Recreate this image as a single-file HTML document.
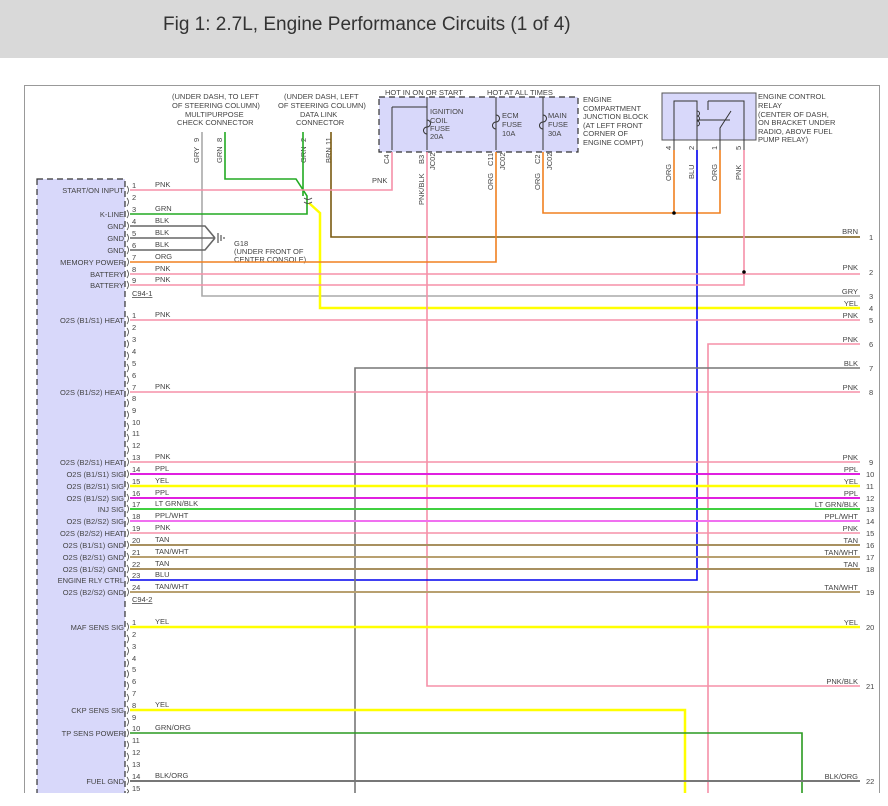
<!DOCTYPE html>
<html><head><meta charset="utf-8"><style>
html,body{margin:0;padding:0;background:#fff;}
svg{display:block;font-family:"Liberation Sans",sans-serif;}
.t{font-size:7.5px;fill:#444;}
.h{font-size:7.5px;fill:#444;}
</style></head><body>
<svg width="888" height="806" viewBox="0 0 888 806" xmlns="http://www.w3.org/2000/svg">
<rect x="0" y="0" width="888" height="58" fill="#d9d9d9"/>
<text x="163" y="30" font-size="19" fill="#333">Fig 1: 2.7L, Engine Performance Circuits (1 of 4)</text>
<rect x="24.5" y="85.5" width="855" height="720" fill="none" stroke="#999" stroke-width="1"/>
<rect x="0" y="793" width="888" height="13" fill="#fff"/>
<!-- module -->
<rect x="37" y="179" width="88" height="620" fill="#d8d8fa" stroke="#333" stroke-dasharray="6,4" stroke-width="1.2"/>
<rect x="0" y="793" width="888" height="13" fill="#fff"/>
<!-- junction block -->
<rect x="379" y="97" width="199" height="55" fill="#d8d8fa" stroke="#333" stroke-dasharray="6,4" stroke-width="1.2"/>
<g stroke="#333" fill="none" stroke-width="1">
<path d="M427 97V150 M392 107H427 M392 107V150 M496 97V150 M543 97V150"/>
<path d="M427 120a3 3 0 0 1 0 7a3 3 0 0 0 0 7 M496 115a3 3 0 0 1 0 7a3 3 0 0 0 0 7 M543 115a3 3 0 0 1 0 7a3 3 0 0 0 0 7"/>
</g>
<g class="t">
<text x="385" y="95">HOT IN ON OR START</text><text x="487" y="95">HOT AT ALL TIMES</text>
<text x="430" y="114">IGNITION</text><text x="430" y="123">COIL</text><text x="430" y="131">FUSE</text><text x="430" y="139">20A</text>
<text x="502" y="118">ECM</text><text x="502" y="127">FUSE</text><text x="502" y="136">10A</text>
<text x="548" y="118">MAIN</text><text x="548" y="127">FUSE</text><text x="548" y="136">30A</text>
<text x="583" y="102">ENGINE</text><text x="583" y="111">COMPARTMENT</text><text x="583" y="119">JUNCTION BLOCK</text><text x="583" y="128">(AT LEFT FRONT</text><text x="583" y="136">CORNER OF</text><text x="583" y="145">ENGINE COMPT)</text>
</g>
<!-- relay -->
<rect x="662" y="93" width="94" height="47" fill="#d8d8fa" stroke="#555" stroke-width="1"/>
<g stroke="#333" fill="none" stroke-width="1">
<path d="M674 150V101H697V150 M697 101v10a2 2 0 0 1 0 5a2 2 0 0 1 0 5a2 2 0 0 1 0 5 M708 101H744V150 M708 101v9 M720 150V128L731 111 M697 120H730" stroke-dasharray="0"/>
</g>
<g class="t">
<text x="758" y="99">ENGINE CONTROL</text><text x="758" y="108">RELAY</text><text x="758" y="117">(CENTER OF DASH,</text><text x="758" y="125">ON BRACKET UNDER</text><text x="758" y="134">RADIO, ABOVE FUEL</text><text x="758" y="142">PUMP RELAY)</text>
<text x="172" y="99">(UNDER DASH, TO LEFT</text><text x="172" y="108">OF STEERING COLUMN)</text><text x="185" y="117">MULTIPURPOSE</text><text x="177" y="125">CHECK CONNECTOR</text>
<text x="284" y="99">(UNDER DASH, LEFT</text><text x="278" y="108">OF STEERING COLUMN)</text><text x="300" y="117">DATA LINK</text><text x="296" y="125">CONNECTOR</text>
<text x="234" y="246">G18</text><text x="234" y="254">(UNDER FRONT OF</text><text x="234" y="262">CENTER CONSOLE)</text>
<text x="372" y="183">PNK</text>
</g>
<!-- vertical labels -->
<g class="t">
<text transform="translate(199,163) rotate(-90)">GRY</text><text transform="translate(199,142) rotate(-90)">9</text>
<text transform="translate(222,163) rotate(-90)">GRN</text><text transform="translate(222,142) rotate(-90)">8</text>
<text transform="translate(306,163) rotate(-90)">GRN</text><text transform="translate(306,142) rotate(-90)">2</text>
<text transform="translate(331,163) rotate(-90)">BRN</text><text transform="translate(331,145) rotate(-90)">11</text>
<text transform="translate(389,164) rotate(-90)">C4</text>
<text transform="translate(424,164) rotate(-90)">B3</text><text transform="translate(424,205) rotate(-90)">PNK/BLK</text><text transform="translate(435,170) rotate(-90)">JC02</text>
<text transform="translate(493,166) rotate(-90)">C11</text><text transform="translate(493,190) rotate(-90)">ORG</text><text transform="translate(505,170) rotate(-90)">JC02</text>
<text transform="translate(540,164) rotate(-90)">C2</text><text transform="translate(540,190) rotate(-90)">ORG</text><text transform="translate(552,170) rotate(-90)">JC02</text>
<text transform="translate(671,150) rotate(-90)">4</text><text transform="translate(671,181) rotate(-90)">ORG</text>
<text transform="translate(694,150) rotate(-90)">2</text><text transform="translate(694,179) rotate(-90)">BLU</text>
<text transform="translate(717,150) rotate(-90)">1</text><text transform="translate(717,181) rotate(-90)">ORG</text>
<text transform="translate(741,150) rotate(-90)">5</text><text transform="translate(741,180) rotate(-90)">PNK</text>
</g>
<!-- wires -->
<g fill="none" stroke-width="1.6">
<path d="M202 132V296H860" stroke="#aaa"/>
<path d="M225 132V179H296L307 196V214H130" stroke="#22aa22"/>
<path d="M303 132V196" stroke="#22aa22"/>
<path d="M309 203L320 213V308H860" stroke="#ffff00" stroke-width="2.5"/>
<path d="M331 132V237H860" stroke="#7a5a10"/>
<path d="M392 152V190H130" stroke="#f590a8"/>
<path d="M427 152V686H860" stroke="#f590a8"/>
<path d="M496 152V262H130" stroke="#f08020"/>
<path d="M543 152V213H720V150 M674 150V213" stroke="#f08020"/>
<path d="M697 150V580H130" stroke="#0000ee"/>
<path d="M744 150V285H130" stroke="#f590a8"/>
<path d="M130 274H860" stroke="#f590a8"/>
<path d="M130 226H205L215 238 M130 238H215 M130 250H205L215 238" stroke="#666"/>
<path d="M708 806V344H860" stroke="#f590a8"/>
<path d="M355 806V368H860" stroke="#777"/>
<path d="M130 320H860 M130 392H860 M130 462H860 M130 533H860" stroke="#f590a8"/>
<path d="M130 474H860 M130 498H860" stroke="#e020e0" stroke-width="2"/>
<path d="M130 486H860 M130 627H860" stroke="#ffff00" stroke-width="2.5"/>
<path d="M685 806V710H130" stroke="#ffff00" stroke-width="2.5"/>
<path d="M130 509H860" stroke="#40d040" stroke-width="2"/>
<path d="M130 521H860" stroke="#f070f0" stroke-width="2"/>
<path d="M130 545H860 M130 569H860" stroke="#a89060" stroke-width="2"/>
<path d="M130 557H860 M130 592H860" stroke="#b8a070" stroke-width="2"/>
<path d="M130 733H802V806" stroke="#2a9a20"/>
<path d="M130 781H860" stroke="#777" stroke-width="2"/>
</g>
<path d="M218 233V243 M221 235V241 M224 237V239" stroke="#333"/>
<circle cx="674" cy="213" r="1.8" fill="#000"/><circle cx="744" cy="272" r="1.8" fill="#000"/>
<rect x="0" y="793" width="888" height="13" fill="#fff"/>
<!-- pin brackets -->
<g fill="none" stroke="#444" stroke-width="0.8">
<path id="pb" d=""/>
</g>
<g class="t" text-anchor="end">
<text x="124" y="193">START/ON INPUT</text><text x="124" y="217">K-LINE</text><text x="124" y="229">GND</text><text x="124" y="241">GND</text><text x="124" y="253">GND</text><text x="124" y="265">MEMORY POWER</text><text x="124" y="277">BATTERY</text><text x="124" y="288">BATTERY</text>
<text x="124" y="323">O2S (B1/S1) HEAT</text><text x="124" y="395">O2S (B1/S2) HEAT</text>
<text x="124" y="465">O2S (B2/S1) HEAT</text><text x="124" y="477">O2S (B1/S1) SIG</text><text x="124" y="489">O2S (B2/S1) SIG</text><text x="124" y="501">O2S (B1/S2) SIG</text><text x="124" y="512">INJ SIG</text><text x="124" y="524">O2S (B2/S2) SIG</text><text x="124" y="536">O2S (B2/S2) HEAT</text><text x="124" y="548">O2S (B1/S1) GND</text><text x="124" y="560">O2S (B2/S1) GND</text><text x="124" y="572">O2S (B1/S2) GND</text><text x="124" y="583">ENGINE RLY CTRL</text><text x="124" y="595">O2S (B2/S2) GND</text>
<text x="124" y="630">MAF SENS SIG</text><text x="124" y="713">CKP SENS SIG</text><text x="124" y="736">TP SENS POWER</text><text x="124" y="784">FUEL GND</text>
<!-- right labels -->
<text x="858" y="234">BRN</text><text x="858" y="270">PNK</text><text x="858" y="294">GRY</text><text x="858" y="306">YEL</text><text x="858" y="318">PNK</text><text x="858" y="342">PNK</text><text x="858" y="366">BLK</text><text x="858" y="390">PNK</text>
<text x="858" y="460">PNK</text><text x="858" y="472">PPL</text><text x="858" y="484">YEL</text><text x="858" y="496">PPL</text><text x="858" y="507">LT GRN/BLK</text><text x="858" y="519">PPL/WHT</text><text x="858" y="531">PNK</text><text x="858" y="543">TAN</text><text x="858" y="555">TAN/WHT</text><text x="858" y="567">TAN</text><text x="858" y="590">TAN/WHT</text>
<text x="858" y="625">YEL</text><text x="858" y="684">PNK/BLK</text><text x="858" y="779">BLK/ORG</text>
</g>
<g class="t">
<text x="869" y="240">1</text><text x="869" y="275">2</text><text x="869" y="299">3</text><text x="869" y="311">4</text><text x="869" y="323">5</text><text x="869" y="347">6</text><text x="869" y="371">7</text><text x="869" y="395">8</text>
<text x="869" y="465">9</text><text x="866" y="477">10</text><text x="866" y="489">11</text><text x="866" y="501">12</text><text x="866" y="512">13</text><text x="866" y="524">14</text><text x="866" y="536">15</text><text x="866" y="548">16</text><text x="866" y="560">17</text><text x="866" y="572">18</text><text x="866" y="595">19</text><text x="866" y="630">20</text><text x="866" y="689">21</text><text x="866" y="784">22</text>
<!-- wire labels near module -->
<text x="155" y="187">PNK</text><text x="155" y="211">GRN</text><text x="155" y="223">BLK</text><text x="155" y="235">BLK</text><text x="155" y="247">BLK</text><text x="155" y="259">ORG</text><text x="155" y="271">PNK</text><text x="155" y="282">PNK</text>
<text x="155" y="317">PNK</text><text x="155" y="389">PNK</text>
<text x="155" y="459">PNK</text><text x="155" y="471">PPL</text><text x="155" y="483">YEL</text><text x="155" y="495">PPL</text><text x="155" y="506">LT GRN/BLK</text><text x="155" y="518">PPL/WHT</text><text x="155" y="530">PNK</text><text x="155" y="542">TAN</text><text x="155" y="554">TAN/WHT</text><text x="155" y="566">TAN</text><text x="155" y="577">BLU</text><text x="155" y="589">TAN/WHT</text>
<text x="155" y="624">YEL</text><text x="155" y="707">YEL</text><text x="155" y="730">GRN/ORG</text><text x="155" y="778">BLK/ORG</text>
<text x="132" y="296" text-decoration="underline">C94-1</text><text x="132" y="602" text-decoration="underline">C94-2</text>
<!-- pin numbers -->
<text x="132" y="188">1</text><text x="132" y="200">2</text><text x="132" y="212">3</text><text x="132" y="224">4</text><text x="132" y="236">5</text><text x="132" y="248">6</text><text x="132" y="260">7</text><text x="132" y="272">8</text><text x="132" y="283">9</text>
<text x="132" y="318">1</text><text x="132" y="330">2</text><text x="132" y="342">3</text><text x="132" y="354">4</text><text x="132" y="366">5</text><text x="132" y="378">6</text><text x="132" y="390">7</text><text x="132" y="401">8</text><text x="132" y="413">9</text><text x="132" y="425">10</text><text x="132" y="436">11</text><text x="132" y="448">12</text><text x="132" y="460">13</text><text x="132" y="472">14</text><text x="132" y="484">15</text><text x="132" y="496">16</text><text x="132" y="507">17</text><text x="132" y="519">18</text><text x="132" y="531">19</text><text x="132" y="543">20</text><text x="132" y="555">21</text><text x="132" y="567">22</text><text x="132" y="578">23</text><text x="132" y="590">24</text>
<text x="132" y="625">1</text><text x="132" y="637">2</text><text x="132" y="649">3</text><text x="132" y="661">4</text><text x="132" y="672">5</text><text x="132" y="684">6</text><text x="132" y="696">7</text><text x="132" y="708">8</text><text x="132" y="720">9</text><text x="132" y="731">10</text><text x="132" y="743">11</text><text x="132" y="755">12</text><text x="132" y="767">13</text><text x="132" y="779">14</text><text x="132" y="791">15</text>
</g>
<g fill="none" stroke="#444" stroke-width="0.8">
<path d="M127 186q3 4 0 8 M127 198q3 4 0 8 M127 210q3 4 0 8 M127 222q3 4 0 8 M127 234q3 4 0 8 M127 246q3 4 0 8 M127 258q3 4 0 8 M127 270q3 4 0 8 M127 281q3 4 0 8"/>
<path d="M127 316q3 4 0 8 M127 328q3 4 0 8 M127 340q3 4 0 8 M127 352q3 4 0 8 M127 364q3 4 0 8 M127 376q3 4 0 8 M127 388q3 4 0 8 M127 399q3 4 0 8 M127 411q3 4 0 8 M127 423q3 4 0 8 M127 434q3 4 0 8 M127 446q3 4 0 8 M127 458q3 4 0 8 M127 470q3 4 0 8 M127 482q3 4 0 8 M127 494q3 4 0 8 M127 505q3 4 0 8 M127 517q3 4 0 8 M127 529q3 4 0 8 M127 541q3 4 0 8 M127 553q3 4 0 8 M127 565q3 4 0 8 M127 576q3 4 0 8 M127 588q3 4 0 8"/>
<path d="M127 623q3 4 0 8 M127 635q3 4 0 8 M127 647q3 4 0 8 M127 659q3 4 0 8 M127 670q3 4 0 8 M127 682q3 4 0 8 M127 694q3 4 0 8 M127 706q3 4 0 8 M127 718q3 4 0 8 M127 729q3 4 0 8 M127 741q3 4 0 8 M127 753q3 4 0 8 M127 765q3 4 0 8 M127 777q3 4 0 8 M127 789q3 3 0 4"/>
<path d="M304 198q4 3 8 0 M304 202q4 3 8 0"/>
</g>
</svg>
</body></html>
